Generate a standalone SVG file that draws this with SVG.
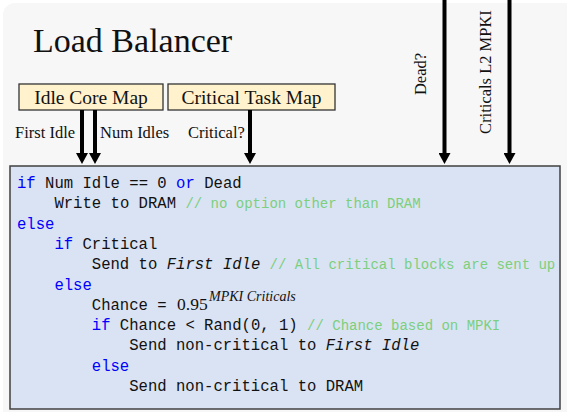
<svg xmlns="http://www.w3.org/2000/svg" width="567" height="412" viewBox="0 0 567 412">
<style>
.bg{fill:#f7f7f7}
.map{fill:#fff2cc;stroke:#333;stroke-width:1.3}
.code{fill:#dae3f3;stroke:#404040;stroke-width:1.5}
.ser{font-family:"Liberation Serif","Times New Roman",serif;fill:#111}
.title{font-size:34px}
.mapt{font-size:19.5px}
.lab{font-size:16.5px}
.mono{font-family:"Liberation Mono","Courier New",monospace;font-size:15.6px;fill:#111}
.kw{fill:#0000ff}
.cm{fill:#7ccf7c;font-size:14px}
.it{font-style:italic}
.arr{stroke:#000;stroke-width:4;fill:none;marker-end:url(#ah)}
</style>
<defs>
<marker id="ah" markerUnits="userSpaceOnUse" viewBox="0 -6 11 12" refX="0" refY="0" markerWidth="11" markerHeight="12" orient="auto">
<path d="M0,-6 L11,0 L0,6 z" fill="#000"/>
</marker>
</defs>
<rect class="bg" x="3" y="3" width="580" height="430" rx="12"/>
<text class="ser title" x="33" y="52">Load Balancer</text>
<g id="idle-core-map">
<rect class="map" x="19" y="84" width="144" height="26"/>
<text class="ser mapt" x="91" y="103.5" text-anchor="middle">Idle Core Map</text>
</g>
<g id="critical-task-map">
<rect class="map" x="168" y="84" width="167" height="26"/>
<text class="ser mapt" x="251.5" y="103.5" text-anchor="middle">Critical Task Map</text>
</g>
<g id="connectors">
<line class="arr" x1="82" y1="110" x2="82" y2="153"/>
<line class="arr" x1="95" y1="110" x2="95" y2="153"/>
<line class="arr" x1="250" y1="110" x2="250" y2="153"/>
<line class="arr" x1="444.5" y1="0" x2="444.5" y2="153"/>
<line class="arr" x1="509.5" y1="0" x2="509.5" y2="153"/>
<text class="ser lab" x="15" y="138">First Idle</text>
<text class="ser lab" x="100" y="138">Num Idles</text>
<text class="ser lab" x="188" y="138">Critical?</text>
<text class="ser lab" transform="translate(426,74) rotate(-90)" text-anchor="middle">Dead?</text>
<text class="ser lab" transform="translate(491,72) rotate(-90)" text-anchor="middle">Criticals L2 MPKI</text>
</g>
<g id="code-block">
<rect class="code" x="10" y="166" width="550" height="243"/>
<text class="mono" x="17" y="188"><tspan class="kw">if</tspan> Num Idle == 0 <tspan class="kw">or</tspan> Dead</text>
<text class="mono" x="54.4" y="208.3">Write to DRAM <tspan class="cm">// no option other than DRAM</tspan></text>
<text class="mono kw" x="17" y="228.6">else</text>
<text class="mono" x="54.4" y="248.9"><tspan class="kw">if</tspan> Critical</text>
<text class="mono" x="91.8" y="269.2">Send to <tspan class="it">First Idle</tspan> <tspan class="cm">// All critical blocks are sent up</tspan></text>
<text class="mono kw" x="54.4" y="289.5">else</text>
<text class="mono" x="91.8" y="309.8">Chance =</text>
<text class="ser" x="177" y="309.8" font-size="17.5">0.95</text>
<text class="ser it" x="209" y="301" font-size="14">MPKI Criticals</text>
<text class="mono" x="91.8" y="330.1"><tspan class="kw">if</tspan> Chance &lt; Rand(0, 1) <tspan class="cm">// Chance based on MPKI</tspan></text>
<text class="mono" x="129.2" y="350.4">Send non-critical to <tspan class="it">First Idle</tspan></text>
<text class="mono kw" x="91.8" y="370.7">else</text>
<text class="mono" x="129.2" y="391">Send non-critical to DRAM</text>
</g>
</svg>
